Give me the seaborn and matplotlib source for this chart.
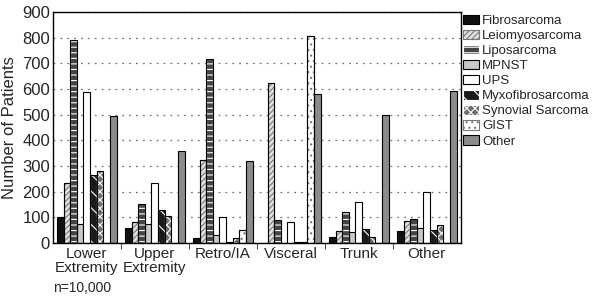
import matplotlib
matplotlib.use("Agg")
import matplotlib.pyplot as plt
from matplotlib.patches import Rectangle
import seaborn as sns
import pandas as pd
import numpy as np

sites = ["Lower\nExtremity", "Upper\nExtremity", "Retro/IA", "Visceral", "Trunk", "Other"]
histologies = ["Fibrosarcoma", "Leiomyosarcoma", "Liposarcoma", "MPNST", "UPS",
               "Myxofibrosarcoma", "Synovial Sarcoma", "GIST", "Other"]

fibrosarcoma = [100, 57, 18, 0, 25, 47]
leiomyosarcoma = [235, 80, 323, 622, 47, 85]
liposarcoma = [790, 150, 718, 88, 120, 93]
mpnst = [75, 75, 32, 0, 42, 57]
ups = [588, 235, 100, 83, 160, 200]
myxofibrosarcoma = [265, 128, 5, 4, 53, 50]
synovial = [280, 105, 20, 4, 25, 70]
gist = [0, 0, 52, 808, 0, 0]
other = [495, 358, 320, 582, 498, 590]

series = [fibrosarcoma, leiomyosarcoma, liposarcoma, mpnst, ups,
          myxofibrosarcoma, synovial, gist, other]

rows = []
for h, vals in zip(histologies, series):
    for s, v in zip(sites, vals):
        rows.append({"site": s, "histology": h, "patients": v})
df = pd.DataFrame(rows)

# fill, hatch, hatch colour
styles = [("#111111", "", "black"),
          ("#e0e0e0", "//////", "#777777"),
          ("#444444", "---", "white"),
          ("#c8c8c8", "", "black"),
          ("white", "", "black"),
          ("#1a1a1a", "\\\\", "white"),
          ("#6e6e6e", "xxxx", "white"),
          ("white", "...", "#777777"),
          ("#8c8c8c", "", "black")]

sns.set_style("white")
plt.rcParams["font.family"] = ["Liberation Sans", "DejaVu Sans"]
plt.rcParams["hatch.linewidth"] = 0.8

fig, ax = plt.subplots(figsize=(6, 2.97), dpi=100)
fig.subplots_adjust(left=0.088, right=0.768, bottom=0.182, top=0.96)

sns.barplot(data=df, x="site", y="patients", hue="histology",
            hue_order=histologies, order=sites, width=0.88,
            palette=[s[0] for s in styles], saturation=1,
            edgecolor="black", linewidth=0.8, ax=ax)

# hatch takes the edge colour, so hatched bars get a second unfilled patch as outline
for cont, (fc, hatch, hc) in zip(ax.containers, styles):
    for p in cont:
        if not hatch:
            continue
        p.set_hatch(hatch)
        p.set_edgecolor(hc)
        ax.add_artist(Rectangle(p.get_xy(), p.get_width(), p.get_height(), fill=False,
                                edgecolor="black", linewidth=0.8,
                                transform=ax.transData, zorder=p.get_zorder() + 0.01))

ax.set_ylim(0, 900)
ax.set_yticks(range(0, 901, 100))
ax.yaxis.grid(True, linestyle=(0, (1.5, 4)), color="#777777", linewidth=0.9)
ax.set_axisbelow(True)
ax.set_xlim(-0.5, len(sites) - 0.5)
ax.set_xticks(np.arange(0.5, len(sites) - 0.5), minor=True)
ax.tick_params(axis="x", which="major", length=0, labelsize=11, pad=3)
ax.tick_params(axis="x", which="minor", length=4, direction="out", bottom=True)
ax.tick_params(axis="y", labelsize=12, length=0, pad=2)
for sp in ax.spines.values():
    sp.set_color("black")
    sp.set_linewidth(1)

ax.set_xlabel(None)
ax.set_ylabel("Number of Patients", fontsize=12)
for lab in ax.get_xticklabels():
    lab.set_linespacing(0.95)

handles, lbls = ax.get_legend_handles_labels()
leg = ax.legend(handles, lbls, loc="upper left", bbox_to_anchor=(1.0, 1.0), frameon=False,
                fontsize=9.5, handlelength=1.2, handleheight=0.75, handletextpad=0.2,
                labelspacing=0.2, borderaxespad=0.1, borderpad=0.1)
for h, (fc, hatch, hc) in zip(leg.legend_handles, styles):
    h.set_facecolor(fc)
    h.set_linewidth(0.8)
    h.set_hatch(hatch)
    h.set_edgecolor(hc if hatch else "black")

fig.text(0.088, 0.03, "n=10,000", fontsize=10, va="center")

plt.savefig("out.png", dpi=100)
